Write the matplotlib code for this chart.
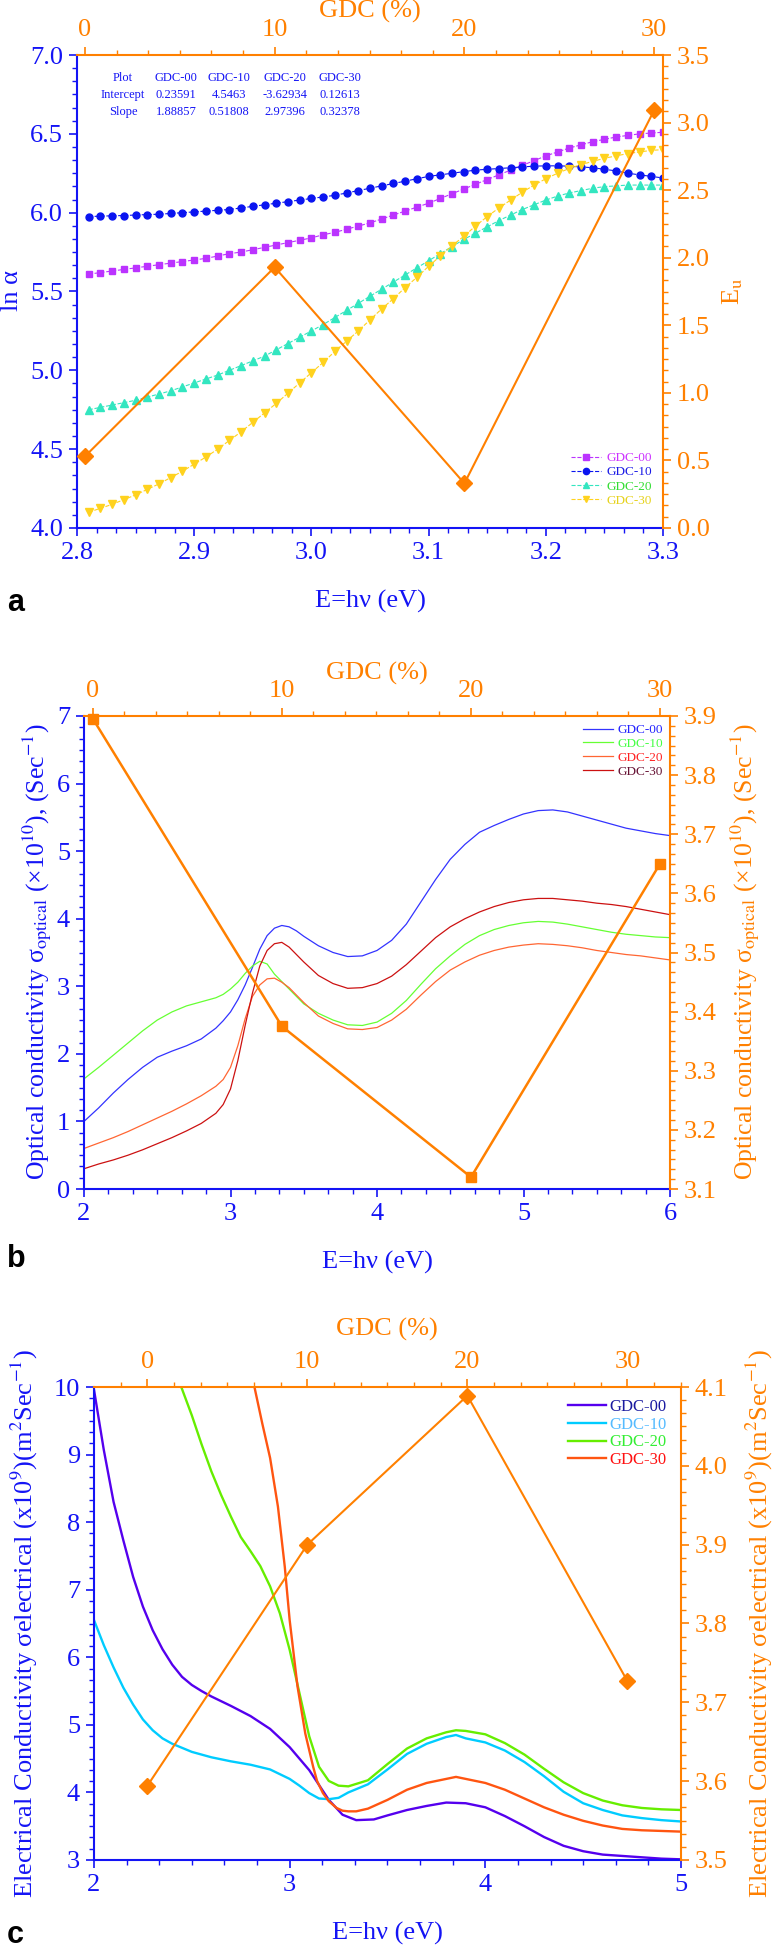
import numpy as np
import matplotlib
matplotlib.use("Agg")
import matplotlib.pyplot as plt
from matplotlib.ticker import MultipleLocator, AutoMinorLocator

plt.rcParams['font.family'] = ['Liberation Serif', 'DejaVu Serif']
plt.rcParams['mathtext.fontset'] = 'stix'

W, H = 774, 1947
BLUE = '#1414F5'
ORANGE = '#FF8000'

# ---------------- panel a data ----------------
a_e = np.round(np.arange(2.81, 3.305, 0.01), 2)
a_gdc00 = [5.61, 5.62, 5.63, 5.64, 5.65, 5.66, 5.67, 5.68, 5.69, 5.70,
           5.71, 5.725, 5.74, 5.75, 5.765, 5.78, 5.795, 5.81, 5.825, 5.84,
           5.86, 5.875, 5.895, 5.915, 5.935, 5.96, 5.985, 6.01, 6.035, 6.06,
           6.09, 6.12, 6.15, 6.18, 6.21, 6.24, 6.27, 6.30, 6.33, 6.36,
           6.385, 6.41, 6.43, 6.45, 6.465, 6.48, 6.49, 6.50, 6.505, 6.51]
a_gdc10 = [5.975, 5.978, 5.98, 5.982, 5.985, 5.988, 5.99, 5.995, 6.0, 6.005,
           6.01, 6.015, 6.02, 6.03, 6.04, 6.05, 6.06, 6.07, 6.08, 6.09,
           6.10, 6.11, 6.125, 6.14, 6.155, 6.17, 6.185, 6.20, 6.215, 6.23,
           6.24, 6.25, 6.26, 6.27, 6.275, 6.28, 6.285, 6.29, 6.295, 6.297,
           6.297, 6.295, 6.29, 6.285, 6.275, 6.265, 6.25, 6.24, 6.23, 6.22]
a_gdc20 = [4.75, 4.765, 4.78, 4.795, 4.81, 4.83, 4.85, 4.87, 4.895, 4.92,
           4.945, 4.97, 5.0, 5.03, 5.06, 5.09, 5.13, 5.17, 5.21, 5.25,
           5.29, 5.335, 5.38, 5.425, 5.47, 5.515, 5.56, 5.605, 5.65, 5.695,
           5.74, 5.785, 5.83, 5.87, 5.91, 5.95, 5.985, 6.02, 6.05, 6.08,
           6.105, 6.125, 6.14, 6.155, 6.165, 6.17, 6.175, 6.175, 6.175, 6.175]
a_gdc30 = [4.10, 4.125, 4.15, 4.18, 4.21, 4.245, 4.28, 4.32, 4.36, 4.405,
           4.45, 4.50, 4.555, 4.61, 4.67, 4.73, 4.79, 4.855, 4.92, 4.985,
           5.05, 5.12, 5.185, 5.25, 5.32, 5.39, 5.455, 5.525, 5.59, 5.66,
           5.725, 5.79, 5.85, 5.915, 5.975, 6.03, 6.08, 6.13, 6.175, 6.215,
           6.25, 6.28, 6.305, 6.325, 6.345, 6.36, 6.375, 6.385, 6.395, 6.40]
gdc = [0, 10, 20, 30]
a_eu = [0.53, 1.93, 0.33, 3.09]

table_rows = [["Plot", "GDC-00", "GDC-10", "GDC-20", "GDC-30"],
              ["Intercept", "0.23591", "4.5463", "-3.62934", "0.12613"],
              ["Slope", "1.88857", "0.51808", "2.97396", "0.32378"]]

# ---------------- panel b data ----------------
b_e = [2.0, 2.1, 2.2, 2.3, 2.4, 2.5, 2.6, 2.7, 2.8, 2.9,
       2.95, 3.0, 3.05, 3.1, 3.15, 3.2, 3.25, 3.3, 3.35, 3.4, 3.45, 3.5,
       3.6, 3.7, 3.8, 3.9, 4.0, 4.1, 4.2, 4.3, 4.4, 4.5, 4.6, 4.7, 4.8,
       4.9, 5.0, 5.1, 5.2, 5.3, 5.4, 5.5, 5.6, 5.7, 5.8, 5.9, 6.0]
b_gdc00 = [1.00, 1.20, 1.42, 1.62, 1.80, 1.95, 2.04, 2.12, 2.22, 2.38,
           2.49, 2.62, 2.80, 3.02, 3.28, 3.55, 3.75, 3.86, 3.90, 3.88, 3.82, 3.74,
           3.60, 3.50, 3.44, 3.45, 3.53, 3.68, 3.92, 4.25, 4.58, 4.88, 5.10,
           5.28, 5.38, 5.47, 5.55, 5.60, 5.61, 5.58, 5.52, 5.46, 5.40, 5.34,
           5.30, 5.26, 5.23]
b_gdc10 = [1.63, 1.80, 1.98, 2.16, 2.34, 2.50, 2.62, 2.71, 2.77, 2.83,
           2.88, 2.96, 3.06, 3.19, 3.30, 3.37, 3.33, 3.18, 3.07, 2.96, 2.85, 2.74,
           2.60, 2.50, 2.43, 2.42, 2.47, 2.60, 2.79, 3.03, 3.26, 3.45, 3.62,
           3.75, 3.84, 3.90, 3.94, 3.96, 3.95, 3.92, 3.88, 3.84, 3.80, 3.77,
           3.75, 3.73, 3.72]
b_gdc20 = [0.60, 0.68, 0.76, 0.85, 0.95, 1.05, 1.15, 1.26, 1.38, 1.52,
           1.62, 1.80, 2.12, 2.52, 2.85, 3.02, 3.11, 3.12, 3.06, 2.98, 2.87, 2.76,
           2.56, 2.45, 2.37, 2.36, 2.39, 2.50, 2.66, 2.87, 3.07, 3.24, 3.36,
           3.46, 3.53, 3.58, 3.61, 3.63, 3.62, 3.60, 3.57, 3.53, 3.50, 3.47,
           3.45, 3.42, 3.39]
b_gdc30 = [0.30, 0.37, 0.43, 0.50, 0.58, 0.67, 0.76, 0.86, 0.97, 1.12,
           1.25, 1.48, 1.90, 2.42, 2.90, 3.30, 3.53, 3.63, 3.65, 3.58, 3.47, 3.36,
           3.16, 3.04, 2.97, 2.98, 3.04, 3.15, 3.32, 3.52, 3.72, 3.88, 4.00,
           4.10, 4.18, 4.24, 4.28, 4.30, 4.30, 4.28, 4.26, 4.23, 4.21, 4.18,
           4.14, 4.10, 4.06]
b_sigma = [3.895, 3.375, 3.12, 3.65]

# ---------------- panel c data ----------------
c_e00 = [2.0, 2.05, 2.1, 2.15, 2.2, 2.25, 2.3, 2.35, 2.4, 2.45, 2.5, 2.55,
         2.6, 2.7, 2.8, 2.9, 3.0, 3.1, 3.2, 3.27, 3.34, 3.43, 3.5, 3.6, 3.7,
         3.8, 3.9, 4.0, 4.1, 4.2, 4.3, 4.4, 4.5, 4.6, 4.7, 4.8, 4.9, 5.0]
c_gdc00 = [9.96, 9.07, 8.30, 7.73, 7.19, 6.75, 6.40, 6.12, 5.89, 5.71, 5.59,
           5.50, 5.42, 5.28, 5.13, 4.94, 4.67, 4.33, 3.89, 3.67, 3.59, 3.60,
           3.66, 3.74, 3.80, 3.85, 3.84, 3.78, 3.65, 3.50, 3.34, 3.21, 3.13,
           3.08, 3.06, 3.04, 3.02, 3.01]
c_e10 = [2.0, 2.05, 2.1, 2.15, 2.2, 2.25, 2.3, 2.35, 2.4, 2.5, 2.6, 2.7, 2.8,
         2.9, 3.0, 3.05, 3.1, 3.15, 3.2, 3.25, 3.3, 3.4, 3.5, 3.6, 3.7, 3.8,
         3.85, 3.9, 4.0, 4.1, 4.2, 4.3, 4.4, 4.5, 4.6, 4.7, 4.8, 4.9, 5.0]
c_gdc10 = [6.55, 6.18, 5.85, 5.55, 5.30, 5.08, 4.92, 4.80, 4.72, 4.60, 4.52,
           4.46, 4.41, 4.34, 4.20, 4.10, 3.99, 3.91, 3.90, 3.92, 4.00, 4.12,
           4.34, 4.57, 4.72, 4.82, 4.85, 4.80, 4.74, 4.62, 4.45, 4.24, 4.01,
           3.84, 3.74, 3.66, 3.62, 3.59, 3.57]
c_e20 = [2.446, 2.5, 2.55, 2.6, 2.65, 2.7, 2.75, 2.8, 2.85, 2.9, 2.95, 3.0,
         3.05, 3.1, 3.15, 3.2, 3.25, 3.3, 3.4, 3.5, 3.6, 3.7, 3.8, 3.85, 3.9,
         4.0, 4.1, 4.2, 4.3, 4.4, 4.5, 4.6, 4.7, 4.8, 4.9, 5.0]
c_gdc20 = [10.0, 9.58, 9.15, 8.75, 8.40, 8.08, 7.78, 7.57, 7.35, 7.05, 6.65,
           6.11, 5.47, 4.83, 4.38, 4.17, 4.10, 4.09, 4.18, 4.42, 4.65, 4.80,
           4.89, 4.92, 4.91, 4.86, 4.73, 4.56, 4.35, 4.15, 3.99, 3.88, 3.81,
           3.77, 3.75, 3.74]
c_e30 = [2.82, 2.86, 2.9, 2.94, 2.975, 3.0, 3.04, 3.08, 3.12, 3.14, 3.17,
         3.2, 3.24, 3.27, 3.3, 3.34, 3.4, 3.5, 3.6, 3.7, 3.8, 3.85, 3.9, 4.0,
         4.1, 4.2, 4.3, 4.4, 4.5, 4.6, 4.7, 4.8, 4.9, 5.0]
c_gdc30 = [10.0, 9.46, 8.95, 8.23, 7.34, 6.55, 5.57, 4.87, 4.38, 4.17, 3.99,
           3.87, 3.77, 3.73, 3.72, 3.72, 3.76, 3.89, 4.04, 4.14, 4.20, 4.23,
           4.20, 4.14, 4.04, 3.91, 3.78, 3.67, 3.58, 3.51, 3.46, 3.44, 3.43,
           3.42]
c_sigma = [3.594, 3.90, 4.089, 3.727]

labels = ["GDC-00", "GDC-10", "GDC-20", "GDC-30"]

fig = plt.figure(figsize=(W / 100, H / 100), dpi=100)
fig.patch.set_facecolor('white')

TICK_FS = 19


def fx(x):
    return x / W


def fy(y):
    return 1 - y / H


def make_panel(l, t, r, b, name):
    rect = [fx(l), fy(b), (r - l) / W, (b - t) / H]
    ax = fig.add_axes(rect, label=name + "main")
    ov = fig.add_axes(rect, label=name + "over")
    ov.patch.set_visible(False)
    for s in ['top', 'right']:
        ax.spines[s].set_visible(False)
    for s in ['left', 'bottom']:
        ax.spines[s].set_color(BLUE)
        ax.spines[s].set_linewidth(1.5)
        ov.spines[s].set_visible(False)
    for s in ['top', 'right']:
        ov.spines[s].set_color(ORANGE)
        ov.spines[s].set_linewidth(1.5)
    ax.tick_params(which='both', direction='out', colors=BLUE, top=False,
                   right=False, labelsize=TICK_FS, pad=4)
    ov.xaxis.tick_top()
    ov.yaxis.tick_right()
    ov.tick_params(which='both', direction='out', colors=ORANGE, bottom=False,
                   left=False, labelsize=TICK_FS, pad=4)
    for a in (ax, ov):
        a.tick_params(which='major', length=6, width=1.2)
        a.tick_params(which='minor', length=3.5, width=1.0)
        a.xaxis.set_minor_locator(AutoMinorLocator(6))
        a.yaxis.set_minor_locator(AutoMinorLocator(6))
    ov.xaxis.set_major_locator(MultipleLocator(10))
    return ax, ov


def text_px(x, y, s, **kw):
    fig.text(fx(x), fy(y), s, **kw)


# ================= panel a =================
ax, ov = make_panel(77, 55, 663, 528, 'a')
ax.set_xlim(2.8, 3.3)
ax.set_ylim(4.0, 7.0)
ax.xaxis.set_major_locator(MultipleLocator(0.1))
ax.yaxis.set_major_locator(MultipleLocator(0.5))
ax.xaxis.set_major_formatter('{x:.1f}')
ax.yaxis.set_major_formatter('{x:.1f}')
a_cols = ['#BB33FF', '#0A14F0', '#33E6C0', '#FFD21E']
a_marks = ['s', 'o', '^', 'v']
a_sizes = [4.3, 5.0, 5.3, 5.3]
for ys, c, m, ms, lab in zip([a_gdc00, a_gdc10, a_gdc20, a_gdc30], a_cols,
                             a_marks, a_sizes, labels):
    ax.plot(a_e, ys, ls='--', lw=0.8, color=c, marker=m, ms=ms, mec=c, label=lab)
ax.legend(loc='upper left', bbox_to_anchor=(fx(571), fy(452)),
          bbox_transform=fig.transFigure, frameon=False, fontsize=9.5,
          handlelength=2.3, handletextpad=0.4, labelspacing=0.15,
          borderpad=0, borderaxespad=0, markerscale=0.9,
          labelcolor=['#CC33FF', '#1A1AE6', '#33DD33', '#E6D21A'])
ov.plot(gdc, a_eu, color=ORANGE, lw=1.5, marker='D', ms=8.5)
ov.set_xlim(-0.42, 30.47)
ov.set_ylim(0, 3.5)
ov.yaxis.set_major_locator(MultipleLocator(0.5))
ov.yaxis.set_major_formatter('{x:.1f}')

col_x = [123, 176, 229, 285, 340]
row_y = [78, 95, 112]
for row, yy in zip(table_rows, row_y):
    for s, xx in zip(row, col_x):
        text_px(xx, yy, s, ha='center', va='center', fontsize=9, color=BLUE)

text_px(370, 11, "GDC (%)", ha='center', va='center', fontsize=19, color=ORANGE)
text_px(370, 601, "E=hν (eV)", ha='center', va='center', fontsize=19, color=BLUE)
text_px(12, 291, "ln α", ha='center', va='center', fontsize=19, color=BLUE, rotation=90)
text_px(733, 291, r"E$_\mathrm{u}$", ha='center', va='center', fontsize=19,
        color=ORANGE, rotation=90)
text_px(7, 611, "a", ha='left', va='baseline', fontsize=22, fontweight='bold',
        family='Liberation Sans', color='black')

# ================= panel b =================
ax, ov = make_panel(84, 716, 670, 1189, 'b')
ax.set_xlim(2, 6)
ax.set_ylim(0, 7)
ax.xaxis.set_major_locator(MultipleLocator(1))
ax.yaxis.set_major_locator(MultipleLocator(1))
b_cols = ['#3333FF', '#66FF33', '#FF6633', '#CC1111']
for ys, c, lab in zip([b_gdc00, b_gdc10, b_gdc20, b_gdc30], b_cols, labels):
    ax.plot(b_e, ys, color=c, lw=0.9, label=lab)
ax.legend(loc='upper left', bbox_to_anchor=(fx(583), fy(724)),
          bbox_transform=fig.transFigure, frameon=False, fontsize=9.5,
          handlelength=2.3, handletextpad=0.3, labelspacing=0.12,
          borderpad=0, borderaxespad=0,
          labelcolor=['#2222FF', '#44FF44', '#FF2222', '#661133'])
ov.plot(gdc, b_sigma, color=ORANGE, lw=1.8, marker='s', ms=7, clip_on=False)
ov.set_xlim(-0.476, 30.53)
ov.set_ylim(3.1, 3.9)
ov.yaxis.set_major_locator(MultipleLocator(0.1))
ov.yaxis.set_major_formatter('{x:.1f}')

b_label = r"Optical conductivity σ$_\mathrm{optical}$ (×10$^{10}$), (Sec$^{-1}$)"
text_px(377, 673, "GDC (%)", ha='center', va='center', fontsize=19, color=ORANGE)
text_px(377, 1262, "E=hν (eV)", ha='center', va='center', fontsize=19, color=BLUE)
text_px(37, 952, b_label, ha='center', va='center', fontsize=18.5, color=BLUE,
        rotation=90)
text_px(745, 952, b_label, ha='center', va='center', fontsize=18.5, color=ORANGE,
        rotation=90)
text_px(7, 1267, "b", ha='left', va='baseline', fontsize=22, fontweight='bold',
        family='Liberation Sans', color='black')

# ================= panel c =================
ax, ov = make_panel(94, 1387, 681, 1860, 'c')
ax.set_xlim(2, 5)
ax.set_ylim(3, 10)
ax.xaxis.set_major_locator(MultipleLocator(1))
ax.yaxis.set_major_locator(MultipleLocator(1))
c_cols = ['#5500EE', '#00CCFF', '#66EE00', '#FF5511']
for xs, ys, c, lab in zip([c_e00, c_e10, c_e20, c_e30],
                          [c_gdc00, c_gdc10, c_gdc20, c_gdc30], c_cols, labels):
    ax.plot(xs, ys, color=c, lw=1.7, label=lab)
ax.legend(loc='upper left', bbox_to_anchor=(fx(568), fy(1399)),
          bbox_transform=fig.transFigure, frameon=False, fontsize=12,
          handlelength=2.3, handletextpad=0.2, labelspacing=0.1,
          borderpad=0, borderaxespad=0,
          labelcolor=['#1A1AA0', '#55BBFF', '#33EE33', '#FF1111'])
ov.plot(gdc, c_sigma, color=ORANGE, lw=1.5, marker='D', ms=8.5)
ov.set_xlim(-3.33, 33.35)
ov.set_ylim(3.5, 4.1)
ov.yaxis.set_major_locator(MultipleLocator(0.1))
ov.yaxis.set_major_formatter('{x:.1f}')

c_label = r"Electrical Conductivity σelectrical (x10$^{9}$)(m$^{2}$Sec$^{-1}$)"
text_px(387, 1329, "GDC (%)", ha='center', va='center', fontsize=19, color=ORANGE)
text_px(387, 1933, "E=hν (eV)", ha='center', va='center', fontsize=19, color=BLUE)
text_px(24, 1624, c_label, ha='center', va='center', fontsize=19, color=BLUE,
        rotation=90)
text_px(759, 1624, c_label, ha='center', va='center', fontsize=19, color=ORANGE,
        rotation=90)
text_px(7, 1943, "c", ha='left', va='baseline', fontsize=22, fontweight='bold',
        family='Liberation Sans', color='black')

fig.savefig("out.png", dpi=100, facecolor='white')
